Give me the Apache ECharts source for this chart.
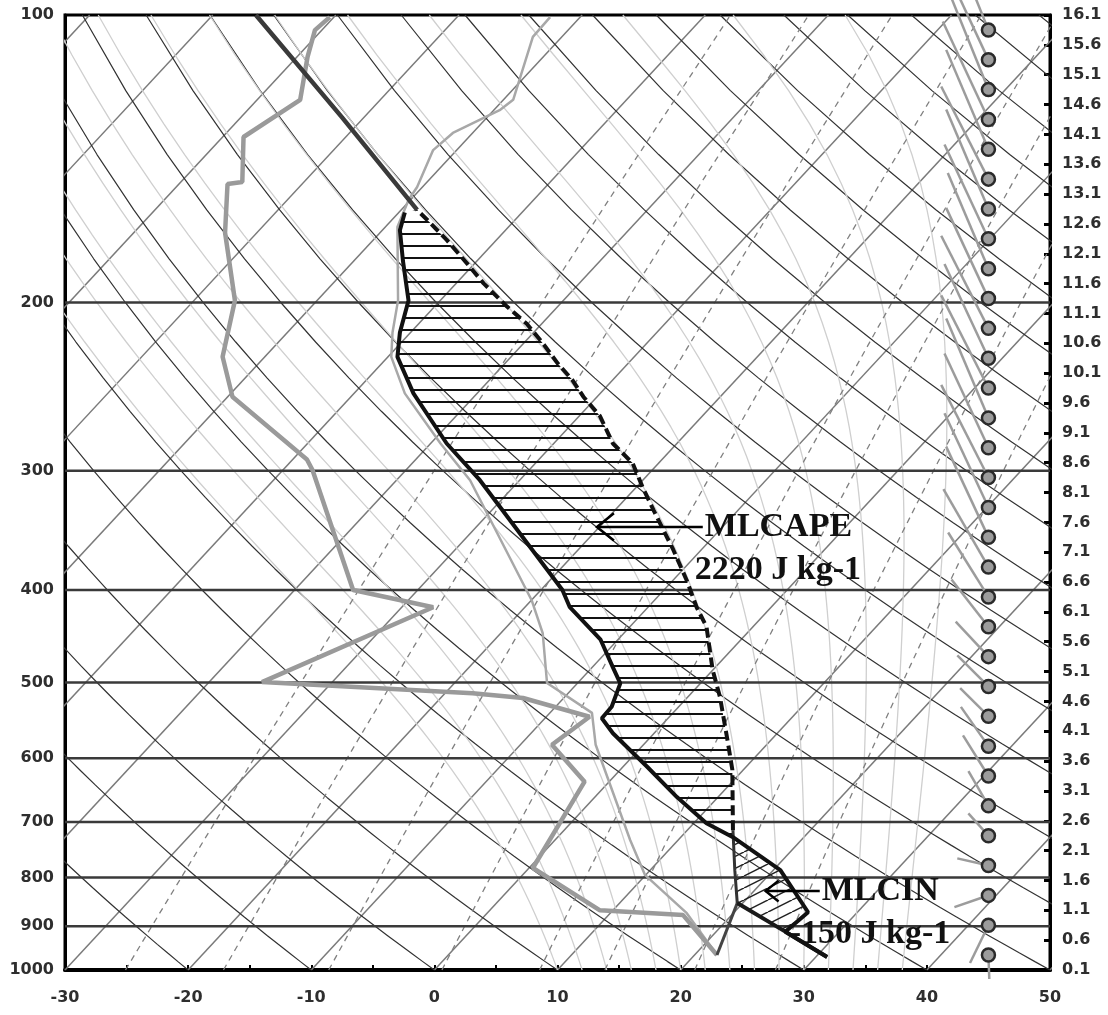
<!DOCTYPE html>
<html>
<head>
<meta charset="utf-8">
<script src="https://cdn.jsdelivr.net/npm/echarts@6/dist/echarts.min.js"></script>
<style>
  html, body { margin: 0; padding: 0; background: #fff; }
  #chart { width: 1108px; height: 1015px; }
</style>
</head>
<body>
<div id="chart"></div>
<script>
// axes
var pressureLevels = [100, 200, 300, 400, 500, 600, 700, 800, 900, 1000];
var tempTicks = [-30, -25, -20, -15, -10, -5, 0, 5, 10, 15, 20, 25, 30, 35, 40, 45, 50];
var heightLabels = ['0.1', '0.6', '1.1', '1.6', '2.1', '2.6', '3.1', '3.6', '4.1', '4.6', '5.1',
    '5.6', '6.1', '6.6', '7.1', '7.6', '8.1', '8.6', '9.1', '9.6', '10.1', '10.6', '11.1',
    '11.6', '12.1', '12.6', '13.1', '13.6', '14.1', '14.6', '15.1', '15.6', '16.1'];

// background diagram lines (deg C at 1000 hPa, g/kg)
var isothermTemps = [-110, -100, -90, -80, -70, -60, -50, -40, -30, -20, -10, 0, 10, 20, 30, 40, 50];
var dryAdiabats = [-30, -20, -10, 0, 10, 20, 30, 40, 50, 60, 70, 80, 90, 100, 110, 120, 130, 140, 150, 160, 170, 180, 190, 200, 210, 220];
var moistAdiabats = [10, 12, 14, 16, 18, 20, 22, 24, 26, 28, 30, 32, 34, 36, 38];
var mixingRatios = [0.5, 1, 2, 4, 7, 10, 16, 24];

// soundings, [skewed temperature on the x axis, pressure hPa], surface first
var tempProfile = [[31.9, 969], [28.5, 912], [30.35, 870], [28.1, 786], [24.25, 726], [22.1, 702],
    [19.7, 659], [17.3, 613], [14.5, 565], [13.6, 545], [14.4, 530], [15.1, 501], [14.5, 482],
    [13.5, 451], [11.0, 417], [10.4, 400], [3.7, 307], [1.0, 281], [-1.7, 249], [-3.0, 228],
    [-2.8, 215], [-2.1, 199], [-2.55, 181], [-2.8, 168], [-2.4, 161]];
var dewProfile = [[22.95, 964.5], [20.2, 876], [13.45, 866], [8.0, 782], [12.2, 635], [9.55, 581],
    [12.6, 543], [7.2, 519], [3.1, 513], [-14.0, 499.5], [-0.1, 417], [-6.6, 400], [-9.9, 299.5],
    [-10.35, 292], [-16.4, 251], [-17.2, 228], [-16.2, 199], [-17.0, 169], [-16.8, 150.3],
    [-15.6, 149.6], [-15.5, 134.2], [-10.9, 122.7], [-10.3, 110.6], [-9.7, 103.7], [-8.5, 100.5]];
var wetBulbProfile = [[22.95, 964.5], [20.5, 872], [17.1, 795], [15.9, 731], [13.1, 581], [12.8, 538],
    [9.15, 500.6], [8.8, 444], [7.9, 410], [2.9, 307], [0.5, 281], [-2.4, 249], [-3.5, 228],
    [-3.4, 215], [-2.95, 199], [-3.0, 166.7], [-2.1, 156.2], [-1.4, 151.4], [-0.1, 138.5],
    [1.5, 132.9], [5.3, 125.8], [6.4, 122.7], [8.0, 105.4], [9.4, 100.5]];
var parcelDry = [[31.9, 969], [28.4, 910], [24.6, 851]];
var parcelMixing = [[22.95, 964.5], [24.6, 851]];
var parcelLow = [[24.6, 851], [24.4, 786], [24.25, 714]];
var parcelCape = [[24.25, 714], [24.2, 617], [23.8, 574], [23.2, 518], [22.6, 485], [22.1, 437],
    [21.3, 417], [20.5, 391], [19.4, 363], [17.8, 330], [16.9, 312], [16.1, 294.6], [14.5, 281],
    [13.45, 263], [12.1, 251], [11.2, 241], [10.0, 231.5], [8.8, 220.6], [7.5, 210.5], [5.9, 202],
    [4.0, 191], [2.65, 182], [1.0, 172], [-0.35, 165], [-1.4, 160]];
var parcelUpper = [[-1.4, 160], [-7.5, 128], [-14.5, 100]];

// winds, km
var barbHeights = [0.35, 0.85, 1.35, 1.85, 2.35, 2.85, 3.35, 3.85, 4.35, 4.85, 5.35, 5.85, 6.35, 6.85,
    7.35, 7.85, 8.35, 8.85, 9.35, 9.85, 10.35, 10.85, 11.35, 11.85, 12.35, 12.85, 13.35, 13.85,
    14.35, 14.85, 15.35, 15.85];
var windDir = [178, 206, 251, 283, 318, 330, 328, 325, 315, 315, 317, 322, 328, 330, 335, 335, 333,
    335, 337, 333, 335, 333, 335, 337, 335, 337, 333, 337, 335, 338, 335, 338];
var windSpeed = [12, 21, 18, 16, 15, 20, 24, 24, 20, 22, 24, 30, 38, 45, 50, 52, 52, 52, 54, 52, 52,
    52, 50, 52, 52, 54, 52, 54, 54, 52, 52, 52];

// annotations: [tail, tip] of the arrows
var capeLabel = ['MLCAPE', '2220 J kg-1'];
var capeArrow = [[21.8, 343.6], [13.2, 343.6]];
var cinLabel = ['MLCIN', '-150 J kg-1'];
var cinArrow = [[31.3, 826.6], [26.9, 826.6]];

var SKEW = 72;
function skewX(t, p) { return t + SKEW * Math.log10(1000 / p); }
function lp(d) { return [d[0], Math.log10(d[1])]; }

function lineSeries(points, style, z) {
    return {
        type: 'line', xAxisIndex: 0, yAxisIndex: 0,
        data: points.map(lp),
        symbol: 'none', silent: true, clip: true, z: z,
        lineStyle: style
    };
}

function polygonSeries(points, fill, z) {
    return {
        type: 'custom', xAxisIndex: 0, yAxisIndex: 0, silent: true, z: z,
        data: [0],
        renderItem: function (params, api) {
            return {
                type: 'polygon',
                shape: { points: points.map(function (d) { return api.coord(lp(d)); }) },
                style: { fill: fill }
            };
        }
    };
}

function satVap(tc) { return 6.112 * Math.exp(17.67 * tc / (tc + 243.5)); }
function moistLapse(tk, p) {
    var es = satVap(tk - 273.15);
    var rs = 0.622 * es / (p - es);
    var num = (287.04 * tk + 2.501e6 * rs) / p;
    var den = 1005.7 + 2.501e6 * 2.501e6 * rs * 0.622 / (287.04 * tk * tk);
    return num / den;
}

function hatch(w, h, draw) {
    var c = document.createElement('canvas');
    c.width = w; c.height = h;
    draw(c.getContext('2d'));
    return { image: c, repeat: 'repeat' };
}

var series = [];

// isotherms
isothermTemps.forEach(function (t) {
    series.push(lineSeries([[skewX(t, 1000), 1000], [skewX(t, 100), 100]],
        { color: '#7a7a7a', width: 1.5 }, 1));
});
// dry adiabats
dryAdiabats.forEach(function (th) {
    var pts = [];
    for (var p = 1000; p >= 100; p -= 20) {
        var t = (th + 273.15) * Math.pow(p / 1000, 0.2857) - 273.15;
        pts.push([skewX(t, p), p]);
    }
    series.push(lineSeries(pts, { color: '#333', width: 1.2 }, 1));
});
// moist adiabats
moistAdiabats.forEach(function (tw) {
    var pts = [];
    var tk = tw + 273.15;
    for (var p = 1000; p >= 100; p -= 10) {
        pts.push([skewX(tk - 273.15, p), p]);
        var k1 = moistLapse(tk, p);
        var k2 = moistLapse(tk - 10 * k1, p - 10);
        tk -= 5 * (k1 + k2);
    }
    series.push(lineSeries(pts, { color: '#cfcfcf', width: 1.3 }, 1));
});
// mixing ratio lines
mixingRatios.forEach(function (w) {
    var pts = [];
    for (var p = 1000; p >= 100; p -= 50) {
        var e = (w / 1000) * p / (0.622 + w / 1000);
        var a = Math.log(e / 6.112);
        var t = 243.5 * a / (17.67 - a);
        pts.push([skewX(t, p), p]);
    }
    series.push(lineSeries(pts, { color: '#808080', width: 1.3, type: [6, 5] }, 1));
});
// isobars
pressureLevels.slice(1, -1).forEach(function (p) {
    series.push(lineSeries([[-30, p], [50, p]], { color: '#3a3a3a', width: 2.5 }, 2));
});

// CAPE and CIN hatching
var capeFill = hatch(8, 12, function (ctx) { ctx.fillStyle = '#111'; ctx.fillRect(0, 5, 8, 2); });
var cinFill = hatch(24, 12, function (ctx) {
    ctx.strokeStyle = '#222'; ctx.lineWidth = 1.5;
    [-24, 0, 24].forEach(function (o) {
        ctx.beginPath(); ctx.moveTo(o, 12); ctx.lineTo(o + 24, 0); ctx.stroke();
    });
});
var capeEnv = tempProfile.filter(function (d) { return d[1] <= 726 && d[1] >= 161; });
series.push(polygonSeries(capeEnv.concat(parcelCape.slice().reverse()), capeFill, 3));
var cinEnv = tempProfile.filter(function (d) { return d[1] >= 726 && d[1] <= 912; });
series.push(polygonSeries(parcelDry.slice(1).concat(parcelLow.slice(1), cinEnv.slice().reverse()), cinFill, 3));

// profiles
series.push(lineSeries(wetBulbProfile, { color: '#a8a8a8', width: 2.5 }, 4));
series.push(lineSeries(dewProfile, { color: '#9a9a9a', width: 4.5 }, 4));
series.push(lineSeries(parcelMixing, { color: '#444', width: 3 }, 5));
series.push(lineSeries(parcelLow, { color: '#333', width: 3 }, 5));
series.push(lineSeries(parcelDry, { color: '#1a1a1a', width: 4 }, 5));
series.push(lineSeries(parcelCape, { color: '#111', width: 4, type: [10, 5] }, 5));
series.push(lineSeries(parcelUpper, { color: '#3a3a3a', width: 4.5 }, 5));
series.push(lineSeries(tempProfile, { color: '#111', width: 4 }, 6));

// wind barbs
series.push({
    type: 'custom', xAxisIndex: 0, yAxisIndex: 2, silent: true, z: 7,
    data: barbHeights.map(function (h, i) { return [45, h, windDir[i], windSpeed[i]]; }),
    renderItem: function (params, api) {
        var c = api.coord([api.value(0), api.value(1)]);
        var a = api.value(2) * Math.PI / 180;
        var len = api.value(3) * 2;
        var r = 6.5, sx = Math.sin(a), sy = -Math.cos(a);
        return {
            type: 'group', children: [
                { type: 'line', shape: { x1: c[0] + sx * r, y1: c[1] + sy * r, x2: c[0] + sx * len, y2: c[1] + sy * len },
                  style: { stroke: '#9c9c9c', lineWidth: 2.5 } },
                { type: 'circle', shape: { cx: c[0], cy: c[1], r: r },
                  style: { fill: '#9c9c9c', stroke: '#2a2a2a', lineWidth: 2.5 } }
            ]
        };
    }
});

var labelFont = { fontFamily: 'DejaVu Sans', fontWeight: 'bold', fontSize: 16, color: '#2e2e2e' };

var option = {
    animation: false,
    backgroundColor: '#fff',
    grid: { left: 65, right: 58, top: 15, bottom: 45, show: true, borderColor: '#000', borderWidth: 3 },
    xAxis: {
        type: 'value', min: -30, max: 50, interval: 10,
        axisLine: { onZero: false, lineStyle: { color: '#000', width: 4 } },
        axisTick: { inside: true, length: 5, customValues: tempTicks, lineStyle: { color: '#000', width: 2 } },
        axisLabel: Object.assign({ margin: 20 }, labelFont),
        splitLine: { show: false }
    },
    yAxis: [{
        type: 'value', min: 2, max: 3, inverse: true,
        axisLine: { show: true, onZero: false, lineStyle: { color: '#000', width: 3 } },
        axisTick: { show: false },
        axisLabel: Object.assign({
            margin: 11,
            customValues: pressureLevels.map(Math.log10),
            formatter: function (v) { return Math.round(Math.pow(10, v)); }
        }, labelFont),
        splitLine: { show: false }
    }, {
        type: 'category', position: 'right', data: heightLabels, boundaryGap: false,
        axisLine: { show: true, onZero: false, lineStyle: { color: '#000', width: 3 } },
        axisTick: { show: true, inside: true, interval: 0, length: 6, lineStyle: { color: '#000', width: 3 } },
        axisLabel: Object.assign({ margin: 12, interval: 0 }, labelFont),
        splitLine: { show: false }
    }, {
        type: 'value', min: 0.1, max: 16.1, show: false,
        axisLine: { show: false, onZero: false }
    }],
    series: series
};

var chart = echarts.init(document.getElementById('chart'));
chart.setOption(option);

// arrows and texts
function px(d) { return chart.convertToPixel({ xAxisIndex: 0, yAxisIndex: 0 }, lp(d)); }
function annotation(arrow, lines, head, shift2) {
    var tail = px(arrow[0]), tip = px(arrow[1]);
    var font = 'bold 34px "Liberation Serif"';
    return [
        { type: 'line', z: 20, shape: { x1: tail[0], y1: tail[1], x2: tip[0], y2: tip[1] },
          style: { stroke: '#000', lineWidth: 2.5 } },
        { type: 'polyline', z: 20,
          shape: { points: [[tip[0] + head, tip[1] - head * 0.8], tip, [tip[0] + head, tip[1] + head * 0.8]] },
          style: { stroke: '#000', lineWidth: 2.5, fill: null } },
        { type: 'text', z: 20,
          style: { text: lines[0], x: tail[0] + 2, y: tail[1], font: font, fill: '#111', textVerticalAlign: 'middle' } },
        { type: 'text', z: 20,
          style: { text: lines[1], x: tail[0] + shift2, y: tail[1] + 43, font: font, fill: '#111', textVerticalAlign: 'middle' } }
    ];
}
chart.setOption({
    graphic: annotation(capeArrow, capeLabel, 17, -8).concat(annotation(cinArrow, cinLabel, 13, -30))
});
</script>
</body>
</html>
